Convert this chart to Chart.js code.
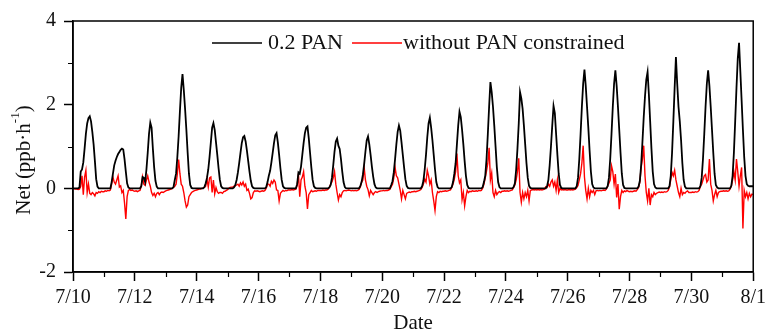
<!DOCTYPE html>
<html>
<head>
<meta charset="utf-8">
<script src="https://cdn.jsdelivr.net/npm/chart.js@4.4.1/dist/chart.umd.min.js"></script>
<style>
  body { margin: 0; background: #fff; }
  #wrap { width: 771px; height: 336px; }
</style>
</head>
<body>
<div id="wrap"><canvas id="net" width="771" height="336"></canvas></div>
<script>
// hourly values, one row per day (7/10 ... 7/31), hour 0..23, last row = 8/1 00:00
var pan02Days = [
  [0,0,0,0,0,0.02,0.4,0.45,0.62,0.95,1.3,1.55,1.68,1.72,1.6,1.35,1.05,0.65,0.22,0.04,0,0,0,0],
  [0,0,0,0,0,0,0.15,0.35,0.55,0.66,0.75,0.82,0.87,0.92,0.95,0.93,0.7,0.4,0.12,0.02,0,0,0,0],
  [0,0,0,0,0,0.05,0.27,0.25,0.15,0.45,0.85,1.3,1.57,1.45,0.95,0.5,0.18,0.04,0,0,0,0,0,0],
  [0,0,0,0,0,0,0.03,0.2,0.35,0.75,1.25,1.85,2.4,2.73,2.35,1.9,1.4,0.85,0.35,0.08,0.01,0,0,0],
  [0,0,0,0,0,0,0.03,0.12,0.25,0.45,0.75,1.1,1.45,1.56,1.4,1.1,0.8,0.48,0.2,0.05,0.01,0,0,0],
  [0,0,0,0,0,0.02,0.08,0.2,0.38,0.6,0.85,1.08,1.22,1.25,1.12,0.9,0.65,0.4,0.18,0.05,0.01,0,0,0],
  [0,0,0,0,0,0,0.03,0.15,0.3,0.42,0.62,0.85,1.08,1.27,1.32,1.1,0.8,0.48,0.2,0.05,0.01,0,0,0],
  [0,0,0,0,0,0,0.1,0.38,0.35,0.52,0.8,1.08,1.32,1.45,1.48,1.2,0.85,0.5,0.2,0.05,0.01,0,0,0],
  [0,0,0,0,0,0,0,0.02,0.08,0.25,0.55,0.88,1.12,1.19,1.02,0.94,0.7,0.4,0.15,0.03,0,0,0,0],
  [0,0,0,0,0,0,0,0.05,0.15,0.32,0.58,0.88,1.15,1.24,1.05,0.8,0.52,0.28,0.1,0.02,0,0,0,0],
  [0,0,0,0,0,0,0,0.08,0.17,0.38,0.7,1.05,1.35,1.5,1.38,1.1,0.8,0.5,0.22,0.06,0.01,0,0,0],
  [0,0,0,0,0,0,0,0.05,0.18,0.45,0.8,1.22,1.55,1.69,1.45,1.15,0.8,0.45,0.15,0.03,0,0,0,0],
  [0,0,0,0,0,0,0.03,0.15,0.35,0.6,1.05,1.5,1.83,1.7,1.4,1.05,0.65,0.3,0.08,0.01,0,0,0,0],
  [0,0,0,0,0,0,0.03,0.15,0.3,0.7,1.3,1.95,2.54,2.3,1.95,1.5,1.0,0.5,0.15,0.03,0,0,0,0],
  [0,0,0,0,0,0,0.03,0.12,0.45,0.95,1.55,2.3,2.15,1.9,1.5,1.05,0.6,0.25,0.06,0.01,0,0,0,0],
  [0,0,0,0,0,0,0,0,0.05,0.2,0.55,1.0,1.5,1.97,1.8,1.3,0.8,0.35,0.08,0.01,0,0,0,0],
  [0,0,0,0,0,0,0,0.05,0.25,0.7,1.3,1.95,2.5,2.84,2.45,1.95,1.45,0.9,0.4,0.1,0.02,0,0,0],
  [0,0,0,0,0,0,0,0.05,0.25,0.7,1.3,1.95,2.5,2.82,2.45,1.95,1.4,0.85,0.35,0.08,0.01,0,0,0],
  [0,0,0,0,0,0,0,0.04,0.18,0.55,1.1,1.7,2.2,2.6,2.78,2.25,1.6,0.95,0.4,0.1,0.02,0,0,0],
  [0,0,0,0,0,0,0,0.05,0.3,0.85,1.6,2.4,3.14,2.5,1.95,1.6,1.15,0.6,0.2,0.04,0,0,0,0],
  [0,0,0,0,0,0,0,0.05,0.25,0.7,1.3,1.95,2.5,2.82,2.45,1.95,1.4,0.85,0.35,0.08,0.02,0,0,0],
  [0,0,0,0,0,0,0,0.06,0.3,0.85,1.6,2.4,3.1,3.48,2.8,2.1,1.4,0.75,0.3,0.1,0.06,0.05,0.05,0.05],
  [0.05]
];

var noPanDays = [
  [0,-0.01,-0.02,-0.02,-0.03,-0.02,0.05,0.3,-0.15,0.27,0.43,-0.1,0.1,-0.12,-0.15,-0.1,-0.13,-0.18,-0.1,-0.12,-0.08,-0.1,-0.07,-0.08],
  [-0.08,-0.06,-0.07,-0.05,-0.06,-0.04,0.1,0.27,0.15,0.1,0.2,0.3,0.03,0.06,-0.1,-0.05,-0.35,-0.73,-0.2,-0.05,-0.03,-0.05,-0.04,-0.06],
  [-0.07,-0.06,-0.08,-0.06,-0.05,0.05,0.27,0.1,0.07,0.2,0.3,0.15,0.05,-0.1,-0.17,-0.12,-0.2,-0.12,-0.1,-0.15,-0.1,-0.09,-0.1,-0.08],
  [-0.06,-0.05,-0.04,-0.03,-0.02,0,0.02,0.05,0.1,0.35,0.69,0.35,0.1,0.05,-0.1,-0.3,-0.45,-0.4,-0.2,-0.15,-0.1,-0.08,-0.06,-0.05],
  [-0.04,-0.03,-0.02,-0.02,0,0.01,0.02,0.05,0.22,0.03,0.25,0.27,-0.1,0.2,-0.13,0.02,-0.08,-0.12,-0.1,-0.1,-0.12,-0.08,-0.07,-0.05],
  [-0.03,0,0.02,0.03,0.03,0.05,0.06,0.08,0.1,0.05,0.13,0.08,0.15,0.05,0.1,-0.05,-0.02,-0.12,-0.25,-0.22,-0.1,-0.06,-0.07,-0.06],
  [-0.07,-0.08,-0.07,-0.06,-0.07,-0.05,0,0.1,0.1,0.05,0.17,0.12,0.2,0.15,-0.04,-0.05,-0.3,-0.12,-0.08,-0.05,-0.07,-0.05,-0.06,-0.04],
  [-0.04,-0.04,-0.03,-0.04,-0.03,-0.02,0.07,0.35,-0.2,0.2,0.27,0.4,0.05,-0.1,-0.49,-0.15,-0.1,-0.05,-0.08,-0.07,-0.06,-0.07,-0.05,-0.05],
  [-0.05,-0.05,-0.04,-0.05,-0.04,-0.04,-0.02,0.02,0.1,0.15,0.25,0.4,0.1,-0.1,-0.28,-0.15,-0.2,-0.1,-0.06,-0.05,-0.06,-0.05,-0.04,-0.05],
  [-0.06,-0.05,-0.06,-0.05,-0.06,-0.05,-0.03,0.03,0.15,0.2,0.5,0.2,0.05,-0.03,-0.18,-0.05,-0.1,-0.15,-0.1,-0.08,-0.1,-0.08,-0.07,-0.06],
  [-0.06,-0.05,-0.06,-0.05,-0.05,-0.04,-0.02,0.04,0.1,0.25,0.5,0.3,0.25,0.1,-0.05,-0.25,-0.05,-0.15,-0.25,-0.12,-0.1,-0.09,-0.1,-0.08],
  [-0.08,-0.07,-0.08,-0.07,-0.06,-0.05,-0.03,0.02,0.1,0.22,0.15,0.43,0.3,0.1,0.2,-0.1,-0.3,-0.53,-0.2,-0.08,-0.1,-0.07,-0.08,-0.07],
  [-0.07,-0.06,-0.07,-0.06,-0.05,-0.04,0.02,0.1,0.22,0.4,0.83,0.3,0.13,0.2,-0.27,-0.1,-0.42,-0.2,-0.05,-0.1,-0.07,-0.08,-0.06,-0.07],
  [-0.07,-0.06,-0.07,-0.05,-0.06,-0.05,0,0.1,0.25,0.42,0.6,0.97,0.2,0.37,-0.1,-0.2,-0.05,-0.15,-0.1,-0.08,-0.1,-0.07,-0.07,-0.06],
  [-0.07,-0.06,-0.07,-0.06,-0.05,-0.04,0.02,0.08,0.2,0.4,0.72,-0.1,-0.33,-0.1,-0.25,-0.1,-0.2,-0.05,-0.3,-0.05,-0.04,-0.03,-0.04,-0.03],
  [-0.04,-0.03,-0.04,-0.03,-0.04,-0.03,-0.02,0.04,0.02,0.1,0.05,0.15,0.2,0.05,0.15,-0.05,0.2,-0.1,0,-0.04,-0.03,-0.04,-0.03,-0.04],
  [-0.04,-0.03,-0.04,-0.03,-0.04,-0.03,-0.02,0.02,0.07,0.2,0.35,0.6,1.02,0.27,-0.05,-0.25,0,-0.2,-0.05,-0.1,-0.05,-0.15,-0.06,-0.05],
  [-0.06,-0.05,-0.06,-0.05,-0.04,-0.05,-0.02,0.05,0.12,0.2,0.54,0.4,0.1,0.34,-0.22,0.1,-0.5,-0.2,-0.05,-0.1,-0.06,-0.08,-0.05,-0.07],
  [-0.08,-0.07,-0.08,-0.07,-0.06,-0.07,-0.03,0.02,0.15,0.5,0.7,1.02,0.3,-0.1,-0.3,0,-0.4,-0.15,-0.2,-0.1,-0.15,-0.12,-0.1,-0.09],
  [-0.1,-0.09,-0.1,-0.08,-0.09,-0.08,-0.05,0.03,0.2,0.38,0.3,0.43,0.2,0.05,-0.1,-0.2,0,-0.15,-0.1,-0.12,-0.08,-0.06,-0.1,-0.1],
  [-0.1,-0.09,-0.1,-0.08,-0.09,-0.08,-0.05,0.05,0.1,0.2,0.3,0.33,0.15,0.2,0.7,0.1,-0.05,-0.3,-0.15,-0.05,-0.2,-0.1,-0.08,-0.07],
  [-0.07,-0.06,-0.07,-0.06,-0.07,-0.06,-0.02,0.05,0.2,0.4,0.2,0.7,0.4,0.05,0.3,0.5,-0.96,-0.05,-0.2,-0.1,-0.25,-0.12,-0.2,-0.14],
  [-0.15]
];

var dateTicks = ['7/10','7/12','7/14','7/16','7/18','7/20','7/22','7/24','7/26','7/28','7/30','8/1'];
var yTicks = [-2, 0, 2, 4];
var seriesNames = ['0.2 PAN', 'without PAN constrained'];

var FONT = 'Liberation Serif';
var INK = '#111';

function toPoints(days) {
  var pts = [];
  var flat = [].concat.apply([], days);
  for (var i = 0; i < flat.length; i++) {
    pts.push({ x: i, y: flat[i] });
  }
  return pts;
}

// box, minor ticks, legend and y title
var extras = {
  id: 'extras',
  afterDraw: function(chart) {
    var ctx = chart.ctx;
    var a = chart.chartArea;
    var xs = chart.scales.x, ys = chart.scales.y;
    ctx.save();
    ctx.strokeStyle = '#000';
    ctx.lineWidth = 1.5;
    ctx.strokeRect(a.left, a.top, a.right - a.left, a.bottom - a.top);

    ctx.lineWidth = 1.2;
    ctx.beginPath();
    for (var h = 24; h < 528; h += 48) {
      var px = Math.round(xs.getPixelForValue(h)) + 0.5;
      ctx.moveTo(px, a.bottom);
      ctx.lineTo(px, a.bottom + 5);
    }
    [-1, 1, 3].forEach(function(v) {
      var py = Math.round(ys.getPixelForValue(v)) + 0.5;
      ctx.moveTo(a.left, py);
      ctx.lineTo(a.left - 5, py);
    });
    ctx.stroke();

    // legend
    var ly = 43;
    ctx.font = '22px "' + FONT + '"';
    ctx.textBaseline = 'middle';
    ctx.textAlign = 'left';
    ctx.lineWidth = 1.6;
    ctx.strokeStyle = chart.data.datasets[0].borderColor;
    ctx.beginPath(); ctx.moveTo(212, ly); ctx.lineTo(262, ly); ctx.stroke();
    ctx.fillStyle = INK;
    ctx.fillText(seriesNames[0], 268, ly);
    ctx.strokeStyle = chart.data.datasets[1].borderColor;
    ctx.beginPath(); ctx.moveTo(352, ly); ctx.lineTo(402, ly); ctx.stroke();
    ctx.fillText(seriesNames[1], 403, ly);

    // y title with superscript
    ctx.translate(24, 160);
    ctx.rotate(-Math.PI / 2);
    var big = '21px "' + FONT + '"', small = '13px "' + FONT + '"';
    ctx.font = big;
    var w1 = ctx.measureText('Net (ppb\u00b7h').width;
    var w3 = ctx.measureText(')').width;
    ctx.font = small;
    var w2 = ctx.measureText('-1').width;
    var x0 = -(w1 + w2 + w3) / 2;
    ctx.font = big;
    ctx.fillText('Net (ppb\u00b7h', x0, 0);
    ctx.font = small;
    ctx.fillText('-1', x0 + w1, -8);
    ctx.font = big;
    ctx.fillText(')', x0 + w1 + w2, 0);
    ctx.restore();
  }
};

var chart = new Chart(document.getElementById('net').getContext('2d'), {
  type: 'line',
  data: {
    datasets: [{
      label: seriesNames[0],
      data: toPoints(pan02Days),
      borderColor: '#000',
      borderWidth: 1.8,
      pointRadius: 0,
      tension: 0
    }, {
      label: seriesNames[1],
      data: toPoints(noPanDays),
      borderColor: '#ff0000',
      borderWidth: 1.4,
      pointRadius: 0,
      tension: 0
    }]
  },
  options: {
    responsive: false,
    animation: false,
    devicePixelRatio: 1,
    layout: { padding: { top: 21, right: 14, left: 0, bottom: 0 } },
    plugins: { legend: { display: false }, tooltip: { enabled: false } },
    scales: {
      x: {
        type: 'linear',
        min: 0,
        max: 528,
        afterFit: function(s) { s.height = 64; },
        afterBuildTicks: function(s) {
          s.ticks = dateTicks.map(function(t, i) { return { value: i * 48 }; });
        },
        ticks: {
          autoSkip: false,
          maxRotation: 0,
          padding: 5,
          color: INK,
          font: { family: FONT, size: 20 },
          callback: function(v) { return dateTicks[v / 48]; }
        },
        grid: { drawOnChartArea: false, tickLength: 9, tickWidth: 1.5, tickColor: '#000' },
        border: { display: true, color: '#000', width: 1.5 },
        title: {
          display: true,
          text: 'Date',
          color: INK,
          font: { family: FONT, size: 21 },
          padding: { top: 0, bottom: 0 }
        }
      },
      y: {
        min: -2,
        max: 4,
        afterFit: function(s) { s.width = 73; },
        afterBuildTicks: function(s) {
          s.ticks = yTicks.map(function(v) { return { value: v }; });
        },
        ticks: {
          padding: 8,
          color: INK,
          font: { family: FONT, size: 20 }
        },
        grid: { drawOnChartArea: false, tickLength: 9, tickWidth: 1.5, tickColor: '#000' },
        border: { display: true, color: '#000', width: 1.5 }
      }
    }
  },
  plugins: [extras]
});
</script>
</body>
</html>
